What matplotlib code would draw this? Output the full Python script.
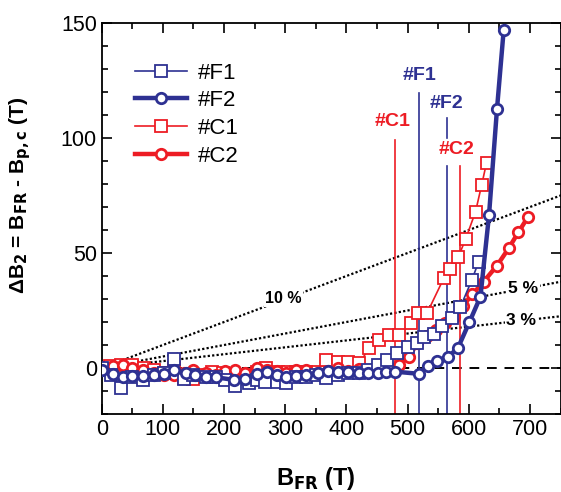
import matplotlib
matplotlib.use("Agg")
import matplotlib.pyplot as plt
from matplotlib.ticker import MultipleLocator

plt.rcParams['font.family'] = ['Liberation Sans', 'DejaVu Sans']

# sample #F1 (thin blue squares)
f1_x = [0, 15, 31, 50, 67, 86, 102, 118, 134, 150, 170, 186, 202, 218, 240, 253, 267, 286, 302,
        318, 334, 350, 367, 386, 402, 420, 436, 451, 467, 483, 500, 515, 527, 543, 556, 573, 586, 605, 616]
f1_y = [0, -3, -8.8, -4, -5, -3, -2, 4, -4.9, -3, -4, -4, -5, -7.8, -6.7, -5, -5.9, -5.9, -6.7,
        -4, -4, -3, -4.5, -3, -2, -2, -1, 1.3, 3.5, 6.4, 9.3, 11, 13.6, 15, 18.3, 21.6, 26.4, 38.3, 46.2]

# sample #F2 (thick blue circles)
f2_x = [0, 18, 34, 50, 67, 86, 102, 118, 137, 153, 170, 186, 217, 234, 253, 270, 286, 302, 318,
        334, 353, 370, 386, 402, 421, 436, 451, 464, 480, 518, 533, 548, 566, 582, 601, 619, 633, 646, 657]
f2_y = [-0.9, -2.6, -3.8, -3.5, -3.5, -3, -2.6, -1, -2.3, -3, -3.8, -4, -5.2, -4.9, -2.6, -1.6, -3, -3.8, -3.5,
        -3, -2, -1.2, -1.6, -1.6, -2, -2, -2, -1.6, -1.6, -2.5, 0.8, 3, 4.9, 8.6, 20, 31, 66.5, 112.5, 147]

# sample #C1 (thin red squares)
c1_x = [0, 13, 31, 50, 69, 86, 102, 118, 134, 150, 167, 180, 199, 218, 234, 253, 269, 288, 305, 318,
        334, 353, 367, 386, 402, 421, 437, 453, 470, 486, 505, 517, 532, 559, 570, 583, 595, 611, 621, 629]
c1_y = [0, 0.9, 1.5, 1.3, -0.1, -1, -2.3, 0, -4.5, -4.9, -3, -1.6, -2.3, -3, -3, -1.6, -0.1, -1.6, -1.6, -1.6,
        -1.6, -1.6, 3.5, 2.5, 2.7, 2, 8.6, 12.2, 14.3, 14.5, 19.4, 23.8, 24, 39, 43, 48.4, 56.2, 68, 79.6, 89.3]

# sample #C2 (thick red circles)
c2_x = [0, 18, 34, 50, 67, 86, 102, 118, 134, 150, 170, 186, 202, 218, 234, 253, 270, 286, 302, 318,
        334, 353, 370, 386, 402, 421, 437, 453, 470, 486, 502, 516, 531, 547, 561, 575, 590, 606, 624,
        646, 665, 681, 697]
c2_y = [0, 1, 1.5, 0, -1, -2, -3, -3, -2, -1, -2, -3, -1.5, -1, -2, 0, -1, -1.5, -2, -1,
        -1, -2, -1.5, 0, -1.5, -0.5, -1, -1.5, 0, 1.3, 4.9, 10.7, 14, 16.5, 19.5, 22.3, 27, 32, 37.5,
        44.5, 52, 59, 65.8]

# critical fields B_p,c of each sample
crit_names = ['#C1', '#F1', '#F2', '#C2']
crit_x = [480, 519, 564, 585]

# reference lines dB2 = p * B_FR
pct = [0.10, 0.05, 0.03]
pct_labels = ['10 %', '5 %', '3 %']

blue = '#2e3192'
red = '#ed1c24'

fig = plt.figure(figsize=(5.61, 4.92), dpi=100)
ax = fig.add_axes([0.1813, 0.1585, 0.818, 0.7948])
ax.set_xlim(0, 750)
ax.set_ylim(-20, 150)

# dashed zero line and the percentage lines
ax.axhline(0, color='black', ls=(0, (5, 4)), lw=1.4, zorder=1)
xr = [0, 760]
for p in pct:
    ax.plot(xr, [p * v for v in xr], color='black', ls=(0, (1, 1)), lw=1.6, zorder=1)
ax.text(297, 0.10 * 297 + 0.5, pct_labels[0], fontsize=11.5, fontweight='bold', ha='center', va='center',
        bbox=dict(facecolor='white', edgecolor='none', pad=1), zorder=2)
ax.text(689, 0.05 * 689, pct_labels[1], fontsize=12.5, fontweight='bold', ha='center', va='center',
        bbox=dict(facecolor='white', edgecolor='none', pad=1), zorder=2)
ax.text(686, 0.03 * 686, pct_labels[2], fontsize=12.5, fontweight='bold', ha='center', va='center',
        bbox=dict(facecolor='white', edgecolor='none', pad=1), zorder=2)

# vertical markers for the critical fields
crit_col = [red, blue, blue, red]
crit_top = [99, 119.6, 88, 88]
for xc, top, col in zip(crit_x, crit_top, crit_col):
    ax.plot([xc, xc], [-20, top], color=col, lw=1.2, zorder=2)
ax.plot([crit_x[2], crit_x[2]], [100, 108.7], color=blue, lw=1.2, zorder=2)
lab_pos = [(475, 107), (519, 127), (564, 115), (580, 95)]
for name, (lx, ly), col in zip(crit_names, lab_pos, crit_col):
    ax.text(lx, ly, name, color=col, fontsize=14, fontweight='bold', ha='center', va='center', zorder=3)

ax.plot(c1_x, c1_y, color=red, lw=1.2, marker='s', ms=9, mfc='white', mec=red, mew=1.3,
        label='#C1', zorder=4)
ax.plot(c2_x, c2_y, color=red, lw=3.2, marker='o', ms=7.5, mfc='white', mec=red, mew=2,
        label='#C2', zorder=4)
ax.plot(f1_x, f1_y, color=blue, lw=1.2, marker='s', ms=9, mfc='white', mec=blue, mew=1.3,
        label='#F1', zorder=5)
ax.plot(f2_x, f2_y, color=blue, lw=3.2, marker='o', ms=7.5, mfc='white', mec=blue, mew=2,
        label='#F2', zorder=5)

h, l = ax.get_legend_handles_labels()
order = [2, 3, 0, 1]
ax.legend([h[i] for i in order], [l[i] for i in order], loc='upper left',
          bbox_to_anchor=(0.03, 0.95), frameon=False, fontsize=16, handlelength=2.3,
          labelspacing=0.3, handletextpad=0.5)

ax.xaxis.set_major_locator(MultipleLocator(100))
ax.xaxis.set_minor_locator(MultipleLocator(50))
ax.yaxis.set_major_locator(MultipleLocator(50))
ax.yaxis.set_minor_locator(MultipleLocator(10))
ax.tick_params(which='both', direction='in', top=True, right=True, labelsize=15.5, width=1.2)
ax.tick_params(which='major', length=7)
ax.tick_params(which='minor', length=4)
for s in ax.spines.values():
    s.set_linewidth(1.3)

ax.set_xlabel('B$_{\\mathbf{FR}}$ (T)', fontsize=17, fontweight='bold')
ax.xaxis.set_label_coords(0.466, -0.13)
ax.set_ylabel('ΔB$_{\\mathbf{2}}$ = B$_{\\mathbf{FR}}$ - B$_{\\mathbf{p,c}}$ (T)', fontsize=15,
              fontweight='bold')
ax.yaxis.set_label_coords(-0.15, 0.56)

fig.savefig('out.png', dpi=100)
